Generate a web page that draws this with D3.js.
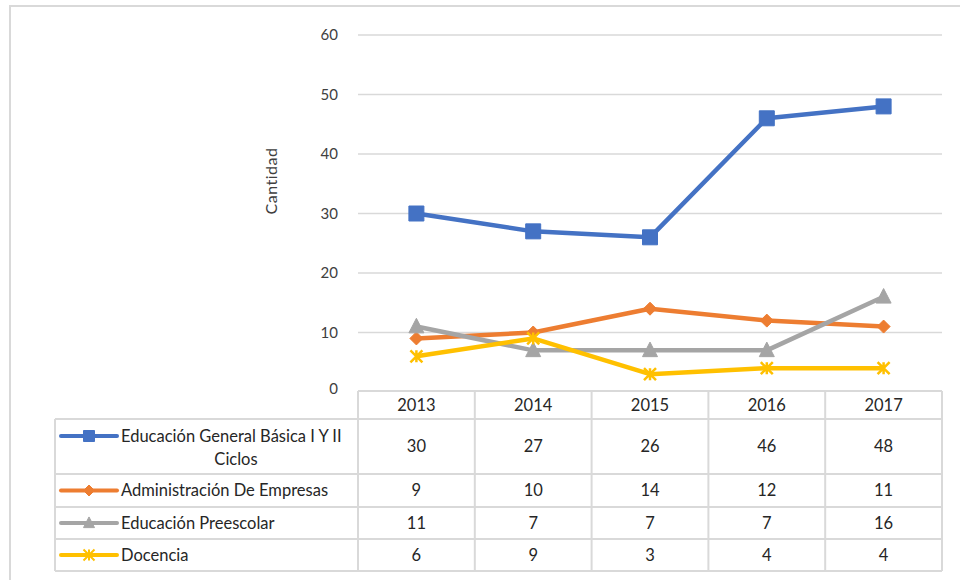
<!DOCTYPE html>
<html>
<head>
<meta charset="utf-8">
<script src="https://cdn.jsdelivr.net/npm/d3@7"></script>
<style>
  body { margin: 0; background: #fff; }
  svg text { font-family: Lato, "Open Sans", sans-serif; }
</style>
</head>
<body>
<div id="chart"></div>
<script>
const width = 960
const height = 580

// datos
const years = ['2013', '2014', '2015', '2016', '2017']
const seriesNames = ['Educación General Básica I Y II Ciclos', 'Administración De Empresas', 'Educación Preescolar', 'Docencia']
const basica = [30, 27, 26, 46, 48]
const administracion = [9, 10, 14, 12, 11]
const preescolar = [11, 7, 7, 7, 16]
const docencia = [6, 9, 3, 4, 4]
const yTicks = [0, 10, 20, 30, 40, 50, 60]
const colors = ['#4472C4', '#ED7D31', '#A5A5A5', '#FFC000']
const markers = ['square', 'diamond', 'triangle', 'star']

const series = [basica, administracion, preescolar, docencia].map((values, i) => ({
    name: seriesNames[i], values, color: colors[i], marker: markers[i]
}))

const plot = { left: 358, right: 942, top: 35, bottom: 392 }
const legendLeft = 55
const rowLines = [419, 474, 507, 539, 571]  // bordes de filas de la tabla
const headerTop = 391
const gridColor = '#D9D9D9'
const fontSize = 16.5

const svg = d3.select('#chart').append('svg').attr('width', width).attr('height', height)

// borde exterior
svg.append('rect').attr('x', 10).attr('y', 6).attr('width', 970).attr('height', 600)
    .attr('fill', 'none').attr('stroke', gridColor).attr('stroke-width', 2)

const x = d3.scaleBand().domain(years).range([plot.left, plot.right]).padding(0)
const y = d3.scaleLinear().domain([0, 60]).range([plot.bottom, plot.top])

// lineas de cuadricula
const gridGroup = svg.append('g').attr('class', 'gridGroup')
gridGroup.selectAll('line').data(yTicks.filter(d => d > 0)).join('line')
    .attr('x1', plot.left).attr('x2', plot.right)
    .attr('y1', d => y(d)).attr('y2', d => y(d))
    .attr('stroke', gridColor).attr('stroke-width', 1.5)

// eje y
const yAxis = d3.axisLeft(y).tickValues(yTicks).tickSize(0).tickPadding(20)
const yAxisGroup = svg.append('g').attr('class', 'yAxisGroup').attr('transform', `translate(${plot.left}, 0)`).call(yAxis)
yAxisGroup.select('.domain').remove()
yAxisGroup.selectAll('text').attr('font-size', 15).attr('fill', '#404040')
    .style('font-family', 'Lato, sans-serif')
yAxisGroup.selectAll('.tick').filter(d => d === 0).select('text').attr('dy', '0.1em')

svg.append('text').attr('transform', 'translate(277, 181) rotate(-90)')
    .attr('text-anchor', 'middle').attr('font-size', 16).attr('fill', '#404040')
    .attr('letter-spacing', 0.5)
    .text('Cantidad')

// simbolos
function markerPath(type, s) {
    if (type === 'square') return `M${-s/2},${-s/2}h${s}v${s}h${-s}Z`
    if (type === 'diamond') return `M0,${-s/2}L${s/2},0L0,${s/2}L${-s/2},0Z`
    if (type === 'triangle') return `M0,${-s*0.55}L${s/2},${s*0.42}L${-s/2},${s*0.42}Z`
    const r = s / 2
    return `M${-r},${-r}L${r},${r}M${-r},${r}L${r},${-r}M0,${-r}L0,${r}`
}
const markerSize = { square: 15, diamond: 13, triangle: 15, star: 12 }

// lineas
const line = d3.line().x((d, i) => x(years[i]) + x.bandwidth() / 2).y(d => y(d))
const elementGroup = svg.append('g').attr('class', 'elementGroup')
series.forEach(s => {
    const g = elementGroup.append('g')
    g.append('path').attr('d', line(s.values)).attr('fill', 'none')
        .attr('stroke', s.color).attr('stroke-width', 4.5).attr('stroke-linejoin', 'round')
    g.selectAll('path.mk').data(s.values).join('path').attr('class', 'mk')
        .attr('transform', (d, i) => `translate(${x(years[i]) + x.bandwidth() / 2}, ${y(d)})`)
        .attr('d', markerPath(s.marker, markerSize[s.marker]))
        .attr('fill', s.color)
        .attr('stroke', s.color)
        .attr('stroke-width', s.marker === 'star' ? 2.5 : 1)
})

// tabla de datos
const table = svg.append('g').attr('class', 'tableGroup')
const hLines = [{ y: headerTop, x1: plot.left }].concat(rowLines.map(v => ({ y: v, x1: legendLeft })))
table.selectAll('line.h').data(hLines).join('line').attr('class', 'h')
    .attr('x1', d => d.x1).attr('x2', plot.right).attr('y1', d => d.y).attr('y2', d => d.y)
    .attr('stroke', gridColor).attr('stroke-width', 2)
const colEdges = years.map(d => x(d)).concat([plot.right])
table.selectAll('line.v').data(colEdges).join('line').attr('class', 'v')
    .attr('x1', d => d).attr('x2', d => d).attr('y1', headerTop).attr('y2', rowLines[rowLines.length - 1])
    .attr('stroke', gridColor).attr('stroke-width', 2)
table.append('line').attr('x1', legendLeft).attr('x2', legendLeft)
    .attr('y1', rowLines[0]).attr('y2', rowLines[rowLines.length - 1])
    .attr('stroke', gridColor).attr('stroke-width', 2)

const textColor = '#262626'
table.selectAll('text.year').data(years).join('text').attr('class', 'year')
    .attr('x', d => x(d) + x.bandwidth() / 2).attr('y', (headerTop + rowLines[0]) / 2)
    .attr('dy', '0.35em').attr('text-anchor', 'middle').attr('font-size', fontSize).attr('fill', textColor)
    .text(d => d)

series.forEach((s, r) => {
    const cy = (rowLines[r] + rowLines[r + 1]) / 2
    const ky = r === 0 ? 436 : cy
    table.selectAll(null).data(s.values).join('text')
        .attr('x', (d, i) => x(years[i]) + x.bandwidth() / 2).attr('y', cy)
        .attr('dy', '0.35em').attr('text-anchor', 'middle').attr('font-size', fontSize).attr('fill', textColor)
        .text(d => d)
    // clave de leyenda
    table.append('line').attr('x1', 61).attr('x2', 117).attr('y1', ky).attr('y2', ky)
        .attr('stroke', s.color).attr('stroke-width', 4).attr('stroke-linecap', 'round')
    table.append('path').attr('transform', `translate(89, ${ky})`)
        .attr('d', markerPath(s.marker, 11)).attr('fill', s.color).attr('stroke', s.color)
        .attr('stroke-width', s.marker === 'star' ? 2 : 1)
    if (r === 0) {
        table.append('text').attr('x', 121).attr('y', 436).attr('dy', '0.35em')
            .attr('font-size', fontSize).attr('fill', textColor).text('Educación General Básica I Y II')
        table.append('text').attr('x', 236).attr('y', 459).attr('dy', '0.35em').attr('text-anchor', 'middle')
            .attr('font-size', fontSize).attr('fill', textColor).text('Ciclos')
    } else {
        table.append('text').attr('x', 121).attr('y', cy).attr('dy', '0.35em')
            .attr('font-size', fontSize).attr('fill', textColor).text(s.name)
    }
})
</script>
</body>
</html>
